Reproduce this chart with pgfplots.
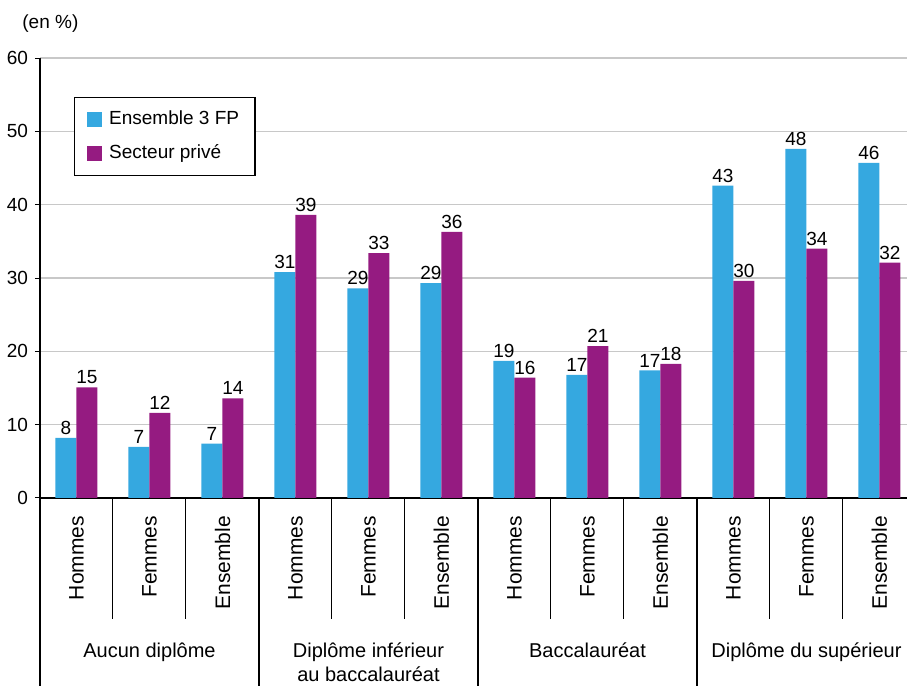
\documentclass[border=0pt]{standalone}
\usepackage{fontspec}
\setmainfont{Liberation Sans}
\usepackage{pgfplots}
\pgfplotsset{compat=1.18}
\definecolor{cblue}{HTML}{35A8E0}
\definecolor{cpurple}{HTML}{951B81}
\definecolor{gridgray}{HTML}{C8C8C8}
\begin{document}
\begin{tikzpicture}
\begin{axis}[
  at={(0,0)}, anchor=south west,
  scale only axis, width=433.5pt, height=220pt,
  xmin=-0.5, xmax=11.377, ymin=0, ymax=60,
  axis lines=left, axis line style={-, black, line width=0.6pt},
  ytick={0,10,...,60},
  ymajorgrids, grid style={gridgray, line width=0.6pt},
  tick align=outside, major tick length=2.5pt,
  ytick style={black, line width=0.5pt},
  xtick={0,...,11},
  xtick style={draw=none},
  xticklabels={Hommes,Femmes,Ensemble,Hommes,Femmes,Ensemble,Hommes,Femmes,Ensemble,Hommes,Femmes,Ensemble},
  xticklabel style={rotate=90, anchor=east, font=\fontsize{10.5}{12}\selectfont},
  xticklabel shift=3pt,
  yticklabel style={font=\fontsize{9.5}{11}\selectfont},
  /pgf/number format/assume math mode=true,
  ybar=0pt, bar width=10.5pt,
  nodes near coords,
  nodes near coords style={font=\fontsize{9.5}{11}\selectfont, black, /pgf/number format/fixed, /pgf/number format/precision=0, inner sep=1.5pt},
  clip=false,
  legend style={at={(0,1)}, anchor=north west, xshift=17pt, yshift=-19.5pt,
    draw=black, line width=0.6pt, inner xsep=6pt, inner ysep=4.75pt,
    font=\fontsize{9.5}{11}\selectfont, row sep=4.5pt,
    cells={anchor=west}},
  legend image code/.code={\fill[#1] (0pt,-3.9pt) rectangle (7.8pt,3.9pt);},
]
\addplot[fill=cblue, draw=none] coordinates {
 (0,8.2) (1,6.96) (2,7.4) (3,30.8) (4,28.6) (5,29.3) (6,18.7) (7,16.8) (8,17.4) (9,42.6) (10,47.6) (11,45.7)};
\addplot[fill=cpurple, draw=none] coordinates {
 (0,15.1) (1,11.6) (2,13.6) (3,38.6) (4,33.4) (5,36.3) (6,16.4) (7,20.7) (8,18.3) (9,29.6) (10,34.0) (11,32.1)};
\legend{\hspace{1.5pt}Ensemble 3 FP\hspace{3pt}, \hspace{1.5pt}Secteur privé}
% separators
\pgfplotsinvokeforeach{0.5,1.5,3.5,4.5,6.5,7.5,9.5,10.5}{
  \draw[black, line width=0.5pt] (axis cs:#1,0) -- ([yshift=-60.5pt]axis cs:#1,0);
}
\pgfplotsinvokeforeach{-0.5,2.5,5.5,8.5}{
  \draw[black, line width=0.6pt] (axis cs:#1,0) -- ([yshift=-94pt]axis cs:#1,0);
}
\node[anchor=base, font=\fontsize{10}{12}\selectfont, inner sep=0pt] at ([yshift=-79.5pt]axis cs:1,0) {Aucun diplôme};
\node[anchor=base, font=\fontsize{10}{12}\selectfont, inner sep=0pt] at ([yshift=-79.5pt]axis cs:4,0) {Diplôme inférieur};
\node[anchor=base, font=\fontsize{10}{12}\selectfont, inner sep=0pt] at ([yshift=-92pt]axis cs:4,0) {au baccalauréat};
\node[anchor=base, font=\fontsize{10}{12}\selectfont, inner sep=0pt] at ([yshift=-79.5pt]axis cs:7,0) {Baccalauréat};
\node[anchor=base, font=\fontsize{10}{12}\selectfont, inner sep=0pt] at ([yshift=-79.5pt]axis cs:10,0) {Diplôme du supérieur};
\node[anchor=base west, font=\fontsize{9.5}{11}\selectfont, inner sep=0pt] at ([xshift=-9pt, yshift=15pt]rel axis cs:0,1) {(en \%)};
\end{axis}
\pgfresetboundingbox
\path[use as bounding box] (-20pt,-94pt) rectangle (433.5pt,249pt);
\end{tikzpicture}
\end{document}
